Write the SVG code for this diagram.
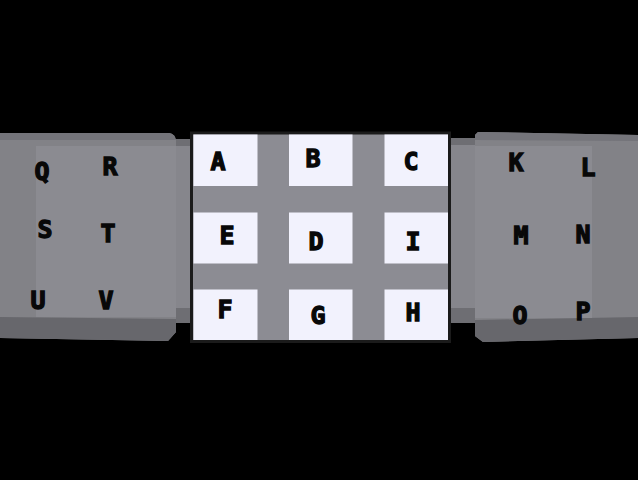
<svg xmlns="http://www.w3.org/2000/svg" width="638" height="480" viewBox="0 0 638 480">
<style>
.t{font-family:"DejaVu Sans Mono","Liberation Mono",monospace;font-weight:bold;font-size:25px;fill:#080808;stroke:#080808;stroke-width:1.3;text-anchor:middle}
.cell{fill:#f2f2fd}
.body{fill:#828287}
.inner{fill:#8b8b91}
.topb{fill:#74747a}
.botb{fill:#67676c}
.sbody{fill:#86868c}
.sband{fill:#6e6e73}
</style>
<rect x="0" y="0" width="638" height="480" fill="#000"/>
<g id="left-slab">
<rect class="sband" x="170" y="139" width="20" height="184"/>
<rect class="sbody" x="170" y="146" width="20" height="162"/>
<path class="body" d="M0,133 L169,133 Q175,134 176,140 L176,332 L168,341 L0,338 Z"/>
<path class="topb" d="M0,133 L169,133 Q175,134 176,140 L0,140 Z"/>
<path class="botb" d="M0,317 L176,319 L176,332 L168,341 L0,338 Z"/>
<rect class="inner" x="36" y="146" width="140" height="171"/>
</g>
<g id="right-slab">
<rect class="sband" x="450" y="138" width="26" height="185"/>
<rect class="sbody" x="450" y="145" width="26" height="163"/>
<path class="body" d="M478,132 L638,135 L638,338 L483,342 L475,336 L475,135 Z"/>
<path class="topb" d="M478,132 L638,135 L638,141 L475,140 L475,135 Z"/>
<path class="botb" d="M475,320 L638,317 L638,338 L483,342 L475,336 Z"/>
<rect class="inner" x="475" y="146" width="117" height="172"/>
</g>
<g id="center-panel">
<rect x="191.5" y="133" width="258" height="208.5" fill="#8c8c93" stroke="#1b1b1b" stroke-width="3"/>
</g>
<g id="node-A"><rect class="cell" x="193.5" y="134.5" width="64" height="51.5"/><text class="t" x="218" y="169.5">A</text></g>
<g id="node-B"><rect class="cell" x="289" y="134.5" width="63.5" height="51.5"/><text class="t" x="313" y="166.5">B</text></g>
<g id="node-C"><rect class="cell" x="384.5" y="134.5" width="63.5" height="51.5"/><text class="t" x="411" y="169.5">C</text></g>
<g id="node-E"><rect class="cell" x="193.5" y="212.5" width="64" height="51"/><text class="t" x="227" y="243.5">E</text></g>
<g id="node-D"><rect class="cell" x="289" y="212.5" width="63.5" height="51"/><text class="t" x="316" y="249.5">D</text></g>
<g id="node-I"><rect class="cell" x="384.5" y="212.5" width="63.5" height="51"/><text class="t" x="413" y="249.5">I</text></g>
<g id="node-F"><rect class="cell" x="193.5" y="289.5" width="64" height="50.5"/><text class="t" x="225" y="317.5">F</text></g>
<g id="node-G"><rect class="cell" x="289" y="289.5" width="63.5" height="50.5"/><text class="t" x="318" y="323.5">G</text></g>
<g id="node-H"><rect class="cell" x="384.5" y="289.5" width="63.5" height="50.5"/><text class="t" x="413" y="320.5">H</text></g>
<g id="node-Q"><text class="t" x="42" y="179.5">Q</text></g>
<g id="node-R"><text class="t" x="110" y="174.5">R</text></g>
<g id="node-S"><text class="t" x="45" y="237.5">S</text></g>
<g id="node-T"><text class="t" x="108" y="241.5">T</text></g>
<g id="node-U"><text class="t" x="38" y="308.5">U</text></g>
<g id="node-V"><text class="t" x="106" y="308.5">V</text></g>
<g id="node-K"><text class="t" x="516" y="170.5">K</text></g>
<g id="node-L"><text class="t" x="588" y="175.5">L</text></g>
<g id="node-M"><text class="t" x="521" y="243.5">M</text></g>
<g id="node-N"><text class="t" x="583" y="242.5">N</text></g>
<g id="node-O"><text class="t" x="520" y="323.5">O</text></g>
<g id="node-P"><text class="t" x="583" y="319.5">P</text></g>
</svg>
